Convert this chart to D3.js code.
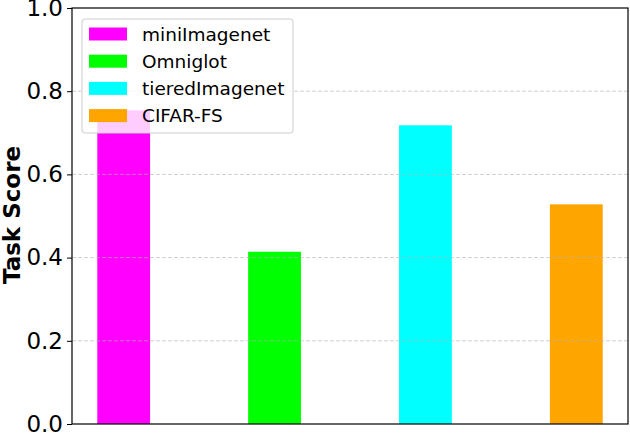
<!DOCTYPE html>
<html>
<head>
<meta charset="utf-8">
<script src="https://cdn.jsdelivr.net/npm/d3@7"></script>
<style>
  body { margin: 0; background: #fff; }
  text { font-family: "DejaVu Sans", sans-serif; }
</style>
</head>
<body>
<svg id="chart" width="630" height="434"></svg>
<script>
let datasets = ["miniImagenet", "Omniglot", "tieredImagenet", "CIFAR-FS"]
let scores = [0.754, 0.414, 0.718, 0.528]
let colors = ["#ff00ff", "#00ff00", "#00ffff", "#ffa500"]
let yTicks = [0.0, 0.2, 0.4, 0.6, 0.8, 1.0]

let svg = d3.select("#chart")
let plotLeft = 72, plotRight = 628, plotTop = 8, plotBottom = 424
let barW = 0.35

let xScale = d3.scaleLinear()
  .domain([-barW / 2 - 0.1675, datasets.length - 1 + barW / 2 + 0.1675])
  .range([plotLeft, plotRight])
let yScale = d3.scaleLinear().domain([0, 1]).range([plotBottom, plotTop])

// bars
svg.selectAll("rect.bar")
  .data(scores)
  .enter()
  .append("rect")
  .attr("class", "bar")
  .attr("x", (d, i) => xScale(i - barW / 2))
  .attr("width", xScale(barW) - xScale(0))
  .attr("y", d => yScale(d))
  .attr("height", d => yScale(0) - yScale(d))
  .attr("fill", (d, i) => colors[i])

// grid on top, faint dashed
svg.append("g")
  .selectAll("line")
  .data(yTicks.slice(1, -1))
  .enter()
  .append("line")
  .attr("x1", plotLeft).attr("x2", plotRight)
  .attr("y1", d => yScale(d)).attr("y2", d => yScale(d))
  .attr("stroke", "#b0b0b0")
  .attr("stroke-opacity", 0.6)
  .attr("stroke-dasharray", "4,2")

// y axis
let yAxis = d3.axisLeft(yScale)
  .tickValues(yTicks)
  .tickFormat(d3.format(".1f"))
  .tickSize(5)
  .tickPadding(4)
let yAxisGroup = svg.append("g")
  .attr("transform", `translate(${plotLeft},0)`)
  .call(yAxis)
yAxisGroup.select(".domain").remove()
yAxisGroup.selectAll("text")
  .style("font-family", "DejaVu Sans")
  .style("font-size", "23px")
  .attr("fill", "#000")
yAxisGroup.selectAll("line").attr("stroke", "#000")

// frame
svg.append("rect")
  .attr("x", plotLeft).attr("y", plotTop)
  .attr("width", plotRight - plotLeft).attr("height", plotBottom - plotTop)
  .attr("fill", "none")
  .attr("stroke", "#000")
  .attr("stroke-width", 1.2)

svg.append("text")
  .attr("transform", `translate(20,215) rotate(-90)`)
  .attr("text-anchor", "middle")
  .style("font-size", "23px")
  .style("font-weight", "bold")
  .text("Task Score")

// legend
let legend = svg.append("g")
legend.append("rect")
  .attr("x", 82).attr("y", 19)
  .attr("width", 211).attr("height", 114)
  .attr("rx", 3)
  .attr("fill", "#fff")
  .attr("fill-opacity", 0.8)
  .attr("stroke", "#cccccc")

let rows = legend.selectAll("g.row")
  .data(datasets)
  .enter()
  .append("g")
  .attr("class", "row")
  .attr("transform", (d, i) => `translate(89,${34 + i * 27.2})`)
rows.append("rect")
  .attr("x", 0).attr("y", -6.5)
  .attr("width", 38).attr("height", 13)
  .attr("fill", (d, i) => colors[i])
rows.append("text")
  .attr("x", 53)
  .attr("dy", "0.36em")
  .style("font-size", "18.5px")
  .text(d => d)
</script>
</body>
</html>
